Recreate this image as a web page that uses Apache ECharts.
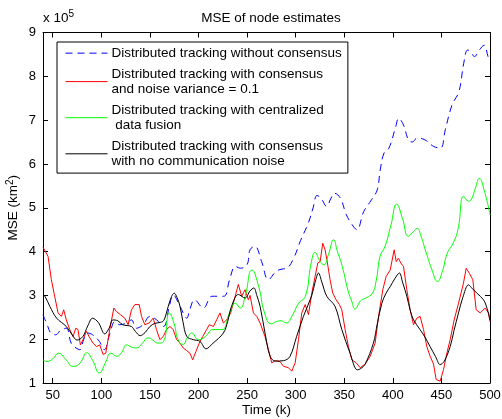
<!DOCTYPE html>
<html><head><meta charset="utf-8">
<script src="https://cdn.jsdelivr.net/npm/echarts@6/dist/echarts.min.js"></script>
<style>html,body{margin:0;padding:0;background:#fff}#c{width:502px;height:419px}</style>
</head><body><div id="c"></div>
<script>
const FONT = '"Liberation Sans", Arial, sans-serif';
const xTicks = [50,100,150,200,250,300,350,400,450,500];
const yTicks = [1,2,3,4,5,6,7,8,9];
const seriesNames = ['without','noisy','central','clean'];
const seriesColors = ['#0000ff','#ff0000','#00ff00','#000000'];
const legendTexts = {
  without: 'Distributed tracking without consensus',
  noisy: 'Distributed tracking with consensus\nand noise variance = 0.1',
  central: 'Distributed tracking with centralized\n data fusion',
  clean: 'Distributed tracking with consensus\nwith no communication noise'
};
// values in units of 1e5 km^2
const blueX = [40,45,48,53,58,64,69,74,78,82,86,91,98,103,109,114,119,126,131,136,143,150,157,164,170,174,181,188,191,196,205,214,226,232,238,243,250,253,258,265,272,280,286,291,298,305,313,318,322,326,332,336,340,346,352,357,363,370,378,384,387,391,396,403,406,411,416,420,425,433,442,449,454,461,468,473,477,480,484,489,494,498,500];
const blueY = [2.56,2.29,2.14,2.1,2.2,2.25,1.91,1.8,1.76,2.0,2.14,2.1,1.95,1.76,2.14,2.4,2.33,2.37,2.44,2.25,2.33,2.52,2.44,2.29,2.75,3.01,2.75,2.48,2.67,2.9,2.71,2.98,2.98,3.36,3.66,3.62,3.7,4.04,4.12,3.77,3.36,3.55,3.6,3.62,3.85,4.25,4.65,5.0,5.28,5.22,5.03,5.2,5.33,5.22,4.85,4.65,4.5,4.91,5.18,5.41,5.86,6.25,6.36,6.85,7.04,6.89,6.55,6.5,6.59,6.55,6.4,6.36,6.78,7.35,7.65,8.3,8.6,8.57,8.45,8.6,8.71,8.45,8.35];
const redX = [40,41.7,45.2,48.6,52,55.5,58.9,61.3,64,67.5,70.9,73.7,76,78.5,81.2,84.7,87.4,91.5,95,98.4,101.9,104.6,108.7,112.9,115.6,119.7,124.2,127.6,131,134.5,139,141.4,144.8,149.3,153.4,156.8,160.3,163.7,167.1,170.6,174,177.5,180.9,184.3,187.8,191.2,194,197.4,200.8,204.3,208.4,211.1,215.3,218.7,222.1,225.6,229,233.1,236.6,241,244.5,247.9,251.3,253.1,256.5,260,263.4,268.5,272,275.4,278.9,284,287.5,292.6,296,299.5,302.9,306.3,309.8,313.2,316.6,320,322.8,325.2,327.9,330.3,332.7,335.4,338.2,341.6,345,347.5,350.9,354.3,357.8,362.3,366.4,371.5,376.7,381.8,385.3,389.7,393.1,397.3,401.4,403.5,405.8,408.2,411,414.4,417.8,421.3,424.7,428.1,431.6,435,438.4,441.9,444.6,448.7,452.2,455.6,459,463.1,467.6,472.7,475.5,478.9,482.3,485.8,489.9,495,498.5,500];
const redY = [4.1,4.12,3.89,3.36,2.98,2.6,2.52,2.67,2.44,2.22,2.06,2.25,2.22,1.87,1.99,2.18,2.06,1.91,1.83,1.87,1.65,1.68,2.22,2.71,2.63,2.56,2.48,2.33,2.67,2.79,2.79,2.52,2.33,2.37,2.48,2.22,1.99,2.06,2.22,2.29,2.22,1.99,1.91,1.8,1.74,1.68,1.53,1.72,1.91,2.06,2.22,2.33,2.29,2.44,2.6,2.37,2.44,2.6,2.88,3.25,2.98,3.13,2.9,3.0,2.6,2.52,2.37,2.06,1.76,1.46,1.51,1.49,1.38,1.35,1.27,1.46,1.99,2.6,2.79,2.56,3.05,3.43,3.74,3.77,4.19,4.04,3.74,3.36,3.05,2.9,2.79,2.67,2.22,1.83,1.53,1.46,1.35,1.43,1.61,1.91,2.52,3.13,3.43,3.58,4.04,3.77,3.85,3.74,3.66,3.13,2.67,2.33,2.48,2.52,2.22,1.83,1.61,1.43,1.08,1.04,1.31,1.68,1.99,2.44,2.82,3.28,3.62,3.5,3.36,2.67,2.6,2.71,2.6,2.4];
const greenX = [40,44,50,56,63,71,78,85,91,98,104,110,116,121,126,131,136,142,148,153,158,164,170,175,179,184,189,193,200,207,215,224,232,238,243,248,255,262,268,275,280,285,290,297,303,310,316,320,325,329,334,339,343,348,354,358,361,367,373,379,383,387,392,398,404,410,416,421,425,429,434,440,446,451,456,462,467,473,478,481,485,489,494,500];
const greenY = [1.53,1.49,1.55,1.68,1.55,1.38,1.45,1.69,1.52,1.23,1.45,1.68,1.61,1.7,1.87,1.82,1.8,1.9,2.03,1.98,1.91,1.95,2.6,2.35,1.99,1.88,2.05,2.14,1.99,2.06,2.22,2.22,2.6,2.82,2.71,2.98,3.58,3.2,2.6,2.35,2.4,2.42,2.37,2.56,2.82,2.98,3.74,3.98,3.78,3.7,3.95,4.27,4.0,3.66,3.1,2.85,2.69,2.88,2.95,3.05,3.35,3.9,4.12,4.6,5.08,4.75,4.35,4.45,4.53,4.35,4.0,3.6,3.32,3.55,3.96,4.19,4.5,5.26,5.15,5.2,5.45,5.67,5.4,4.84];
const blackX = [40,42,47,54,64,70,75,81,86,91,97,103.6,108,112,117,122,131,135,140,145,150,155,160,164,167,171,175,178,181,184,188,194.6,201.5,207.7,215,225.6,230,234,241,248,253,257,260,263.4,268.5,273.7,279,287.5,294,301,308,316.6,320,323.5,327,332,340.5,347.5,356,363.5,367,371.5,380,384,388.7,393,397.3,402,406.8,410,414.4,418,421.3,428,433,438.4,444,448.7,453,459,463,467.6,472,477.9,482,486.5,493.3,497,500];
const blackY = [3.0,2.98,2.75,2.48,2.29,2.1,1.98,2.06,2.3,2.48,2.38,2.12,2.25,2.44,2.42,2.33,2.29,2.18,2.08,2.15,2.29,2.36,2.38,2.42,2.6,2.9,3.05,2.95,2.75,2.4,2.06,1.99,1.95,1.78,1.91,2.14,2.4,2.75,3.02,2.94,3.1,3.17,3.0,2.75,2.14,1.61,1.5,1.51,1.6,2.06,2.52,3.0,3.3,3.51,3.3,2.98,2.75,2.22,1.68,1.3,1.33,1.43,1.91,2.35,2.82,3.05,3.2,3.38,3.51,3.3,2.98,2.65,2.44,2.22,2.05,1.83,1.6,1.42,1.5,1.83,2.2,2.6,2.95,3.24,3.15,3.05,2.9,2.7,2.44];

const pairs = (xs, ys) => xs.map((x, i) => [x, ys[i]]);
const chart = echarts.init(document.getElementById('c'), null, {renderer: 'canvas'});
const axisCommon = {
  type: 'value', min: 40, max: 500,
  axisLine: {show: true, lineStyle: {color: '#000', width: 1}},
  splitLine: {show: false}
};
chart.setOption({
  animation: false,
  backgroundColor: '#fff',
  textStyle: {fontFamily: FONT},
  title: {text: 'MSE of node estimates', left: 266, top: 6, textAlign: 'center',
    textStyle: {fontSize: 13.5, fontWeight: 'normal', color: '#000', fontFamily: FONT}},
  grid: {left: 43, right: 12, top: 32.5, bottom: 36, containLabel: false, outerBoundsMode: 'none'},
  legend: {
    orient: 'vertical', left: 57, top: 42,
    data: seriesNames,
    formatter: n => legendTexts[n],
    backgroundColor: '#fff', borderColor: '#000', borderWidth: 1,
    padding: [3.5, 6, 4, 8], itemGap: 5.5, itemWidth: 42, itemHeight: 14,
    itemStyle: {opacity: 0},
    lineStyle: {width: 1},
    textStyle: {fontSize: 13.5, color: '#000', fontFamily: FONT, lineHeight: 15.3, padding: [0,0,0,-1]},
    selectedMode: false
  },
  xAxis: [
    Object.assign({}, axisCommon, {
      position: 'bottom',
      name: 'Time (k)', nameLocation: 'middle', nameGap: 20, nameMoveOverlap: false,
      nameTextStyle: {fontSize: 13.5, color: '#000', fontFamily: FONT},
      axisTick: {inside: true, length: 5, customValues: xTicks, lineStyle: {color: '#000'}},
      axisLabel: {customValues: xTicks, fontSize: 13, color: '#000', margin: 6, fontFamily: FONT}
    }),
    Object.assign({}, axisCommon, {
      position: 'top',
      axisTick: {inside: true, length: 5, customValues: xTicks, lineStyle: {color: '#000'}},
      axisLabel: {show: false}
    })
  ],
  yAxis: [
    {
      type: 'value', min: 1, max: 9, interval: 1, position: 'left',
      axisLine: {show: true, lineStyle: {color: '#000'}},
      splitLine: {show: false},
      axisTick: {inside: true, length: 5, lineStyle: {color: '#000'}},
      axisLabel: {fontSize: 13, color: '#000', margin: 7, fontFamily: FONT},
      name: 'MSE (km{s|2})', nameLocation: 'middle', nameGap: 21, nameRotate: 90, nameMoveOverlap: false,
      nameTextStyle: {fontSize: 13.5, color: '#000', fontFamily: FONT,
        rich: {s: {fontSize: 10, verticalAlign: 'top', padding: [0,0,7,0], color: '#000', fontFamily: FONT}}}
    },
    {
      type: 'value', min: 1, max: 9, interval: 1, position: 'right',
      axisLine: {show: true, lineStyle: {color: '#000'}},
      splitLine: {show: false},
      axisTick: {inside: true, length: 5, lineStyle: {color: '#000'}},
      axisLabel: {show: false}
    }
  ],
  graphic: [{
    type: 'text', left: 43, top: 9,
    style: {text: 'x 10{s|5}', fontSize: 13.5, fill: '#000', fontFamily: FONT,
      rich: {s: {fontSize: 10, verticalAlign: 'top', padding: [0,0,8,0], fill: '#000', fontFamily: FONT}}}
  }],
  series: [
    {name: 'without', type: 'line', data: pairs(blueX, blueY), smooth: 0.4, symbol: 'none',
      lineStyle: {color: seriesColors[0], width: 1, type: [7, 5]}, itemStyle: {color: seriesColors[0]}},
    {name: 'noisy', type: 'line', data: pairs(redX, redY), smooth: false, symbol: 'none',
      lineStyle: {color: seriesColors[1], width: 1}, itemStyle: {color: seriesColors[1]}},
    {name: 'central', type: 'line', data: pairs(greenX, greenY), smooth: 0.5, symbol: 'none',
      lineStyle: {color: seriesColors[2], width: 1}, itemStyle: {color: seriesColors[2]}},
    {name: 'clean', type: 'line', data: pairs(blackX, blackY), smooth: 0.35, symbol: 'none',
      lineStyle: {color: seriesColors[3], width: 1}, itemStyle: {color: seriesColors[3]}}
  ]
});
</script></body></html>
